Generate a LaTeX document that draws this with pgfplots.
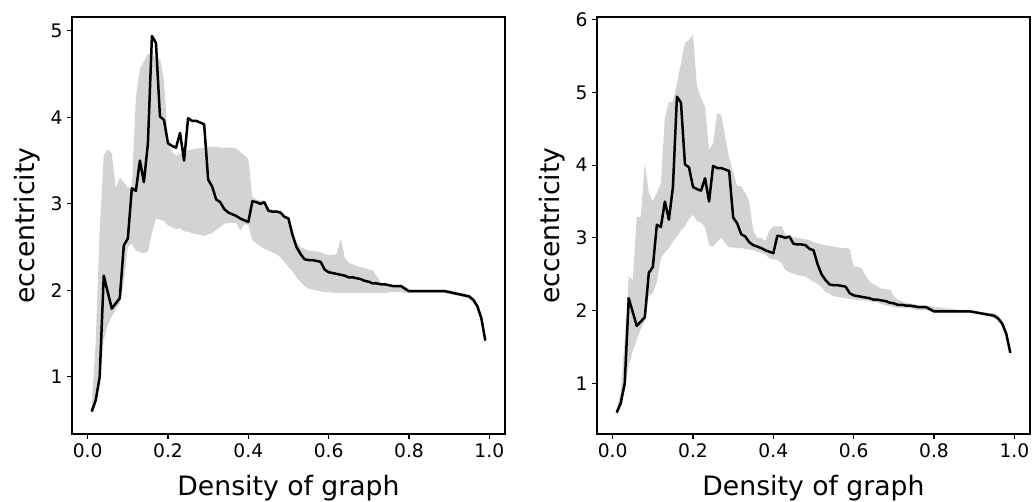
\documentclass[border=0pt]{standalone}
\usepackage{pgfplots}
\pgfplotsset{compat=1.18}
\usepackage{pgfplotstable}
\usepgfplotslibrary{fillbetween}
\usepackage{fontspec}
\setmainfont{DejaVu Sans}
\definecolor{lg}{HTML}{D3D3D3}

\pgfplotstableread{
x m lo1 hi1 lo2 hi2
0.01 0.60 0.57 0.65 0.56 0.64
0.02 0.73 0.68 1.40 0.66 0.90
0.03 1.00 0.95 2.70 0.90 1.60
0.04 2.17 1.43 3.56 1.25 2.47
0.05 1.98 1.60 3.63 1.45 2.42
0.06 1.79 1.70 3.58 1.60 3.29
0.07 1.85 1.78 3.18 1.75 3.29
0.08 1.91 1.85 3.30 1.85 4.03
0.09 2.52 2.10 3.25 2.20 3.62
0.10 2.60 2.50 3.19 2.24 3.50
0.11 3.18 2.54 3.18 2.40 3.62
0.12 3.15 2.46 4.23 2.72 3.75
0.13 3.50 2.44 4.56 2.80 4.65
0.14 3.25 2.43 4.65 2.86 4.87
0.15 3.70 2.45 4.73 2.95 4.87
0.16 4.94 2.66 4.75 3.02 5.12
0.17 4.86 2.83 4.68 3.10 5.40
0.18 4.01 2.82 4.68 3.16 5.68
0.19 3.97 2.80 4.43 3.26 5.72
0.20 3.70 2.75 3.70 3.32 5.79
0.21 3.67 2.73 3.60 3.23 5.08
0.22 3.65 2.71 3.56 3.21 4.92
0.23 3.82 2.72 3.58 3.15 4.80
0.24 3.50 2.68 3.60 2.90 4.21
0.25 3.99 2.68 3.62 2.88 4.30
0.26 3.96 2.66 3.63 2.95 4.71
0.27 3.96 2.65 3.64 3.00 4.69
0.28 3.94 2.64 3.64 2.93 4.40
0.29 3.92 2.63 3.65 2.87 4.10
0.30 3.28 2.65 3.66 2.87 3.90
0.31 3.20 2.66 3.66 2.86 3.71
0.32 3.05 2.70 3.66 2.86 3.71
0.33 3.02 2.73 3.65 2.85 3.62
0.34 2.94 2.77 3.65 2.84 3.50
0.35 2.90 2.78 3.65 2.83 3.10
0.36 2.88 2.78 3.65 2.81 3.00
0.37 2.86 2.78 3.64 2.79 3.00
0.38 2.83 2.69 3.60 2.77 2.96
0.39 2.81 2.76 3.56 2.72 3.10
0.40 2.79 2.76 3.52 2.70 3.16
0.41 3.03 2.58 3.08 2.70 3.16
0.42 3.02 2.54 3.05 2.66 3.16
0.43 3.00 2.51 3.04 2.56 3.05
0.44 3.02 2.48 3.04 2.53 3.02
0.45 2.92 2.46 2.95 2.51 3.01
0.46 2.91 2.44 2.93 2.49 3.00
0.47 2.91 2.42 2.93 2.48 2.99
0.48 2.90 2.38 2.92 2.47 2.98
0.49 2.85 2.33 2.87 2.43 2.97
0.50 2.83 2.27 2.85 2.40 2.94
0.51 2.64 2.22 2.70 2.37 2.93
0.52 2.50 2.15 2.56 2.32 2.91
0.53 2.42 2.10 2.50 2.26 2.90
0.54 2.36 2.05 2.48 2.23 2.89
0.55 2.35 2.02 2.46 2.20 2.88
0.56 2.35 2.01 2.46 2.19 2.87
0.57 2.34 2.00 2.45 2.18 2.86
0.58 2.33 1.99 2.44 2.17 2.86
0.59 2.24 1.98 2.42 2.16 2.85
0.60 2.21 1.98 2.41 2.15 2.61
0.61 2.20 1.97 2.41 2.15 2.60
0.62 2.19 1.97 2.42 2.14 2.58
0.63 2.18 1.97 2.60 2.14 2.48
0.64 2.17 1.97 2.38 2.13 2.40
0.65 2.15 1.97 2.32 2.12 2.36
0.66 2.15 1.97 2.30 2.11 2.33
0.67 2.14 1.97 2.28 2.09 2.30
0.68 2.13 1.97 2.27 2.07 2.30
0.69 2.11 1.97 2.26 2.06 2.29
0.70 2.10 1.97 2.24 2.05 2.20
0.71 2.08 1.97 2.23 2.04 2.15
0.72 2.08 1.97 2.16 2.04 2.13
0.73 2.07 1.97 2.09 2.03 2.11
0.74 2.07 1.97 2.08 2.03 2.10
0.75 2.06 1.98 2.07 2.02 2.09
0.76 2.05 1.98 2.06 2.01 2.08
0.77 2.05 1.98 2.06 2.01 2.08
0.78 2.05 1.98 2.06 2.01 2.07
0.79 2.02 1.97 2.04 1.99 2.06
0.80 1.99 1.97 2.01 1.97 2.05
0.81 1.99 1.97 2.01 1.97 2.05
0.82 1.99 1.97 2.01 1.97 2.04
0.83 1.99 1.97 2.01 1.97 2.03
0.84 1.99 1.97 2.01 1.97 2.03
0.85 1.99 1.97 2.01 1.97 2.02
0.86 1.99 1.97 2.01 1.97 2.01
0.87 1.99 1.97 2.01 1.97 2.01
0.88 1.99 1.97 2.01 1.97 2.00
0.89 1.99 1.97 2.01 1.97 2.00
0.90 1.98 1.96 2.00 1.96 2.00
0.91 1.97 1.95 1.99 1.95 1.99
0.92 1.96 1.94 1.98 1.94 1.98
0.93 1.95 1.93 1.97 1.93 1.97
0.94 1.94 1.92 1.96 1.92 1.97
0.95 1.93 1.90 1.95 1.90 1.96
0.96 1.89 1.86 1.91 1.86 1.93
0.97 1.82 1.79 1.84 1.79 1.86
0.98 1.68 1.65 1.70 1.65 1.72
0.99 1.42 1.39 1.44 1.39 1.44
}\data

\pgfplotsset{
  mystyle/.style={
    scale only axis, width=433pt, height=417pt,
    xmin=-0.039, xmax=1.039,
    xtick={0,0.2,0.4,0.6,0.8,1.0},
    xticklabels={0.0,0.2,0.4,0.6,0.8,1.0},
    tick align=outside, xtick pos=bottom, ytick pos=left,
    major tick length=4.67pt,
    every tick/.style={black, line width=1.1pt},
    axis line style={line width=1.1pt, black},
    /pgf/number format/assume math mode=true,
    tick label style={font=\fontsize{18.67}{22}\selectfont},
    label style={font=\fontsize{26.67}{32}\selectfont},
    xlabel={Density of graph}, ylabel={eccentricity},
    xlabel style={at={(axis description cs:0.5,-0.1463)}, anchor=base},
    ylabel style={at={(axis description cs:-0.0855,0.5)}, anchor=base},
    xticklabel style={anchor=north, inner sep=0pt, yshift=-4.67pt},
    yticklabel style={anchor=east, inner sep=0pt, xshift=-4.67pt},
  }
}

\begin{document}
\begin{tikzpicture}
\begin{axis}[mystyle, ymin=0.34, ymax=5.16, ytick={1,2,3,4,5}, yticklabels={1,2,3,4,5}]
  \addplot[draw=none, name path=U1] table[x=x, y=hi1] {\data};
  \addplot[draw=none, name path=L1] table[x=x, y=lo1] {\data};
  \addplot[lg, draw=none] fill between[of=U1 and L1];
  \addplot[black, line width=2.5pt, line join=round] table[x=x, y=m] {\data};
\end{axis}
\begin{axis}[mystyle, at={(525pt,0pt)}, ymin=0.305, ymax=6.036, ytick={1,2,3,4,5,6}, yticklabels={1,2,3,4,5,6}]
  \addplot[draw=none, name path=U2] table[x=x, y=hi2] {\data};
  \addplot[draw=none, name path=L2] table[x=x, y=lo2] {\data};
  \addplot[lg, draw=none] fill between[of=U2 and L2];
  \addplot[black, line width=2.5pt, line join=round] table[x=x, y=m] {\data};
\end{axis}
\pgfresetboundingbox
\path[use as bounding box] (-72pt,-68pt) rectangle (961pt,434pt);
\end{tikzpicture}
\end{document}
